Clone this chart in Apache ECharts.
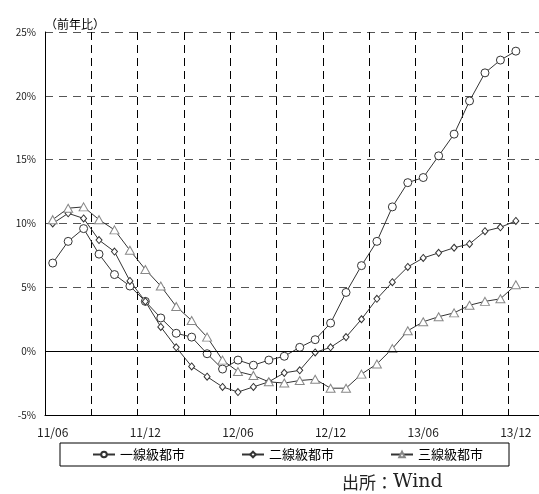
<!DOCTYPE html>
<html>
<head>
<meta charset="utf-8">
<script src="https://cdn.jsdelivr.net/npm/echarts@6/dist/echarts.min.js"></script>
<style>
  html, body { margin: 0; padding: 0; background: #fff; }
</style>
</head>
<body>
<div id="chart" style="width: 539px; height: 494px"></div>
<script>
// 月次カテゴリ（最後の14/01はデータなし、枠の余白用）
var months = [
  "11/06", "11/07", "11/08", "11/09", "11/10", "11/11", "11/12",
  "12/01", "12/02", "12/03", "12/04", "12/05", "12/06",
  "12/07", "12/08", "12/09", "12/10", "12/11", "12/12",
  "13/01", "13/02", "13/03", "13/04", "13/05", "13/06",
  "13/07", "13/08", "13/09", "13/10", "13/11", "13/12", "14/01"
];

var yTicks = [-5, 0, 5, 10, 15, 20, 25];

var seriesNames = ["一線級都市", "二線級都市", "三線級都市"];

// 前年比（%）
var tier1 = [
  6.9, 8.6, 9.6, 7.6, 6.0, 5.1, 3.9, 2.6, 1.4, 1.1, -0.2, -1.4, -0.7, -1.1, -0.7,
  -0.4, 0.3, 0.9, 2.2, 4.6, 6.7, 8.6, 11.3, 13.2, 13.6, 15.3, 17.0, 19.6, 21.8, 22.8, 23.5
];
var tier2 = [
  10.0, 10.8, 10.4, 8.7, 7.8, 5.5, 3.9, 1.9, 0.3, -1.2, -2.0, -2.8, -3.2, -2.8, -2.4,
  -1.7, -1.5, -0.1, 0.3, 1.1, 2.5, 4.1, 5.4, 6.6, 7.3, 7.7, 8.1, 8.4, 9.4, 9.7, 10.2
];
var tier3 = [
  10.3, 11.2, 11.3, 10.3, 9.5, 7.9, 6.4, 5.1, 3.5, 2.4, 1.1, -0.7, -1.6, -1.9, -2.4,
  -2.5, -2.3, -2.2, -2.9, -2.9, -1.8, -1.0, 0.2, 1.6, 2.3, 2.7, 3.0, 3.6, 3.9, 4.1, 5.2
];

var chart = echarts.init(document.getElementById("chart"));

var lineCommon = {
  type: "line",
  lineStyle: { color: "#333", width: 1 },
  emphasis: { disabled: true },
  z: 3
};

var option = {
  animation: false,
  textStyle: { fontFamily: "'Noto Sans CJK JP', sans-serif" },
  title: {
    text: "（前年比）",
    left: 40,
    top: 13,
    textStyle: { fontSize: 12, fontWeight: "normal", color: "#000" }
  },
  grid: { left: 45, top: 32, width: 498, height: 383 },
  legend: {
    data: seriesNames,
    left: 60,
    top: 443,
    borderColor: "#000",
    borderWidth: 1,
    borderRadius: 0,
    padding: [5, 26, 5, 32],
    itemGap: 56,
    itemWidth: 22,
    itemHeight: 7,
    textStyle: { fontSize: 13, color: "#000" }
  },
  xAxis: {
    type: "category",
    data: months,
    boundaryGap: true,
    axisLine: { onZero: false, lineStyle: { color: "#000", width: 1 } },
    axisTick: { show: false },
    axisLabel: { interval: 5, fontSize: 12, color: "#222", margin: 11 },
    splitLine: {
      show: true,
      interval: 2,
      lineStyle: { color: "#000", type: [8, 5], width: 1 }
    }
  },
  yAxis: {
    type: "value",
    min: yTicks[0],
    max: yTicks[yTicks.length - 1],
    interval: 5,
    axisLine: { show: true, lineStyle: { color: "#000", width: 1 } },
    axisTick: { show: false },
    axisLabel: {
      fontSize: 10,
      color: "#222",
      margin: 9,
      formatter: function (v) { return v + "%"; }
    },
    splitLine: { lineStyle: { color: "#555", type: [8, 6], width: 1 } }
  },
  series: [
    Object.assign({}, lineCommon, {
      name: seriesNames[0],
      data: tier1,
      symbol: "circle",
      symbolSize: 8,
      itemStyle: { color: "#fff", borderColor: "#333", borderWidth: 1 },
      markLine: {
        silent: true,
        symbol: "none",
        label: { show: false },
        lineStyle: { color: "#000", type: "solid", width: 1 },
        data: [{ yAxis: 0 }]
      }
    }),
    Object.assign({}, lineCommon, {
      name: seriesNames[1],
      data: tier2,
      symbol: "diamond",
      symbolSize: [6, 7],
      itemStyle: { color: "#fff", borderColor: "#333", borderWidth: 1 }
    }),
    Object.assign({}, lineCommon, {
      name: seriesNames[2],
      data: tier3,
      symbol: "triangle",
      symbolSize: [9, 8],
      itemStyle: { color: "#fff", borderColor: "#888", borderWidth: 1 }
    })
  ],
  graphic: [
    {
      type: "text",
      left: 342,
      top: 473,
      style: {
        text: "{a|出所：}{b|Wind}",
        rich: {
          a: { fontSize: 17, fontFamily: "'Noto Sans CJK JP', sans-serif", fill: "#222" },
          b: { fontSize: 19, fontFamily: "'DejaVu Serif', serif", fill: "#222" }
        }
      }
    }
  ]
};

chart.setOption(option);
</script>
</body>
</html>
